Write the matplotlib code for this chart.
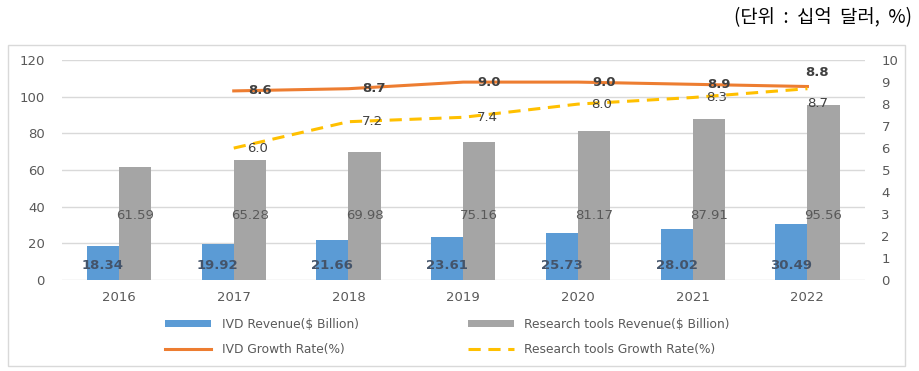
import matplotlib.pyplot as plt
import numpy as np
from matplotlib.patches import Rectangle

plt.rcParams['font.family'] = ['DejaVu Sans', 'Noto Sans CJK KR']

years = ["2016", "2017", "2018", "2019", "2020", "2021", "2022"]
ivd_revenue = [18.34, 19.92, 21.66, 23.61, 25.73, 28.02, 30.49]
research_revenue = [61.59, 65.28, 69.98, 75.16, 81.17, 87.91, 95.56]
growth_years = ["2017", "2018", "2019", "2020", "2021", "2022"]
ivd_growth = [8.6, 8.7, 9.0, 9.0, 8.9, 8.8]
research_growth = [6.0, 7.2, 7.4, 8.0, 8.3, 8.7]

blue = "#5B9BD5"
gray = "#A5A5A5"
orange = "#ED7D31"
yellow = "#FFC000"
tick_color = "#595959"

fig = plt.figure(figsize=(9.2, 3.71), dpi=100)
ax = fig.add_axes([0.067, 0.245, 0.873, 0.593])
ax2 = ax.twinx()

x = np.arange(len(years))
w = 0.28
b1 = ax.bar(x - w / 2, ivd_revenue, w, color=blue, label="IVD Revenue($ Billion)", zorder=2)
b2 = ax.bar(x + w / 2, research_revenue, w, color=gray, label="Research tools Revenue($ Billion)", zorder=2)

for xi, v in zip(x, ivd_revenue):
    ax.text(xi - w / 2, 8, f"{v:.2f}", ha="center", va="center", fontsize=9.5,
            fontweight="bold", color="#44546A")
for xi, v in zip(x, research_revenue):
    ax.text(xi + w / 2, 35, f"{v:.2f}", ha="center", va="center", fontsize=9.5,
            color="#595959")

gx = [years.index(y) for y in growth_years]
l1, = ax2.plot(gx, ivd_growth, color=orange, lw=2.2, label="IVD Growth Rate(%)")
l2, = ax2.plot(gx, research_growth, color=yellow, lw=2.2, ls=(0, (4, 2.5)),
               label="Research tools Growth Rate(%)")

for i, (xi, v) in enumerate(zip(gx, ivd_growth)):
    off = (10, 14) if i == len(gx) - 1 else (26, 0)
    ax2.annotate(f"{v:.1f}", (xi, v), xytext=off, textcoords="offset pixels",
                 ha="center", va="center", fontsize=9.5, fontweight="bold", color="#404040")
for i, (xi, v) in enumerate(zip(gx, research_growth)):
    off = (10, -15) if i == len(gx) - 1 else (24, 0)
    ax2.annotate(f"{v:.1f}", (xi, v), xytext=off, textcoords="offset pixels",
                 ha="center", va="center", fontsize=9.5, color="#404040")

ax.set_xlim(-0.5, len(years) - 0.5)
ax.set_ylim(0, 120)
ax.set_yticks(range(0, 121, 20))
ax2.set_ylim(0, 10)
ax2.set_yticks(range(0, 11))
ax.set_xticks(x)
ax.set_xticklabels(years)
ax.grid(axis="y", color="#D9D9D9", lw=1, zorder=0)
ax.set_axisbelow(True)

for a in (ax, ax2):
    for s in a.spines.values():
        s.set_visible(False)
    a.tick_params(length=0, labelsize=9.5, labelcolor=tick_color)
ax.tick_params(axis="y", pad=12)
ax.tick_params(axis="x", pad=8)
ax2.tick_params(axis="y", pad=12)

fig.legend([b1, l1, b2, l2],
           [b1.get_label(), l1.get_label(), b2.get_label(), l2.get_label()],
           loc="upper left", bbox_to_anchor=(165 / 920, 1 - 318 / 371), ncol=2, frameon=False,
           borderpad=0, borderaxespad=0, fontsize=8.8, handlelength=3.8, handleheight=0.5,
           handletextpad=0.85, columnspacing=8.9, labelspacing=1.0, labelcolor=tick_color)

fig.patches.append(Rectangle((8 / 920, 5 / 371), 897 / 920, 321 / 371, transform=fig.transFigure,
                             fill=False, ec="#D9D9D9", lw=1))

fig.text(0.991, 0.952, "(단위  :  십억  달러,  %)", ha="right", va="center", fontsize=13.5,
         color="black", family="Noto Sans CJK KR")

fig.savefig("out.png", dpi=100)
